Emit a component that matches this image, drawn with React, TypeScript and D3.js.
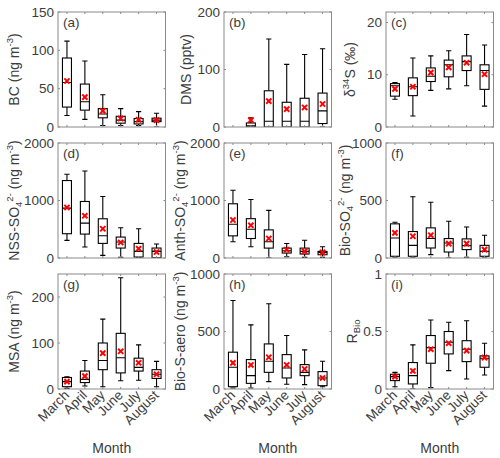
import React from "react";
import * as d3 from "d3";

const months = ["March", "April", "May", "June", "July", "August"];

// per month: [whiskerLow, q1, median, q3, whiskerHigh, mean]
const bcStats = [
  [15, 26, 58, 90, 112, 60],
  [10, 22, 33, 56, 86, 39],
  [2, 12, 17, 24, 42, 21],
  [2, 5, 9, 14, 24, 11],
  [2, 4, 7, 11, 20, 9.5],
  [0, 7, 9, 11.5, 18, 9],
];
const dmsStats = [
  null,
  [0, 0, 2, 7, 16, 12],
  [0, 0, 10, 63, 153, 45],
  [0, 0, 10, 43, 109, 31],
  [0, 0, 10, 50, 126, 34],
  [0, 6, 28, 59, 136, 40],
];
const d34sStats = [
  [5.3, 5.9, 7.9, 8.3, 8.5, 7.3],
  [2.1, 6.0, 7.7, 9.4, 13.2, 7.7],
  [7.0, 8.7, 9.7, 11.3, 13.6, 10.4],
  [7.3, 9.6, 11.9, 12.8, 14.6, 11.4],
  [7.9, 10.8, 12.5, 13.6, 17.7, 12.3],
  [4.0, 7.2, 10.8, 11.9, 15.7, 10.1],
];
const nssStats = [
  [306, 422, 867, 1347, 1457, 879],
  [191, 416, 607, 983, 1514, 734],
  [46, 254, 387, 682, 1069, 509],
  [12, 173, 277, 364, 526, 270],
  [5, 17, 116, 254, 509, 162],
  [0, 5, 116, 173, 243, 104],
];
const anthStats = [
  [282, 385, 586, 943, 1178, 661],
  [195, 339, 500, 684, 1017, 569],
  [0, 172, 282, 489, 828, 339],
  [23, 86, 126, 172, 253, 144],
  [11, 69, 115, 172, 310, 115],
  [11, 57, 98, 115, 195, 98],
];
const bioSo4Stats = [
  [0, 15, 174, 297, 311, 218],
  [0, 15, 110, 230, 532, 189],
  [29, 87, 169, 262, 485, 198],
  [0, 52, 131, 169, 320, 125],
  [6, 73, 108, 166, 270, 125],
  [0, 15, 58, 110, 198, 73],
];
const msaStats = [
  [1.4, 5, 16, 25, 26.5, 16],
  [6.5, 14, 21, 39, 62, 28],
  [5, 42, 62, 100, 152, 78],
  [18, 35, 68, 121, 242, 82],
  [19, 39, 47, 67, 96, 57],
  [5, 23, 32, 42, 60, 32],
];
const bioSAeroStats = [
  [9, 20, 189, 320, 770, 227],
  [9, 49, 116, 256, 558, 209],
  [64, 145, 241, 392, 741, 276],
  [41, 96, 183, 299, 465, 209],
  [38, 116, 145, 212, 340, 174],
  [20, 29, 96, 151, 241, 96],
];
const rBioStats = [
  [0.02, 0.073, 0.108, 0.128, 0.145, 0.108],
  [0, 0.044, 0.116, 0.23, 0.384, 0.157],
  [0.012, 0.224, 0.36, 0.465, 0.6, 0.346],
  [0.16, 0.305, 0.407, 0.5, 0.58, 0.398],
  [0.087, 0.238, 0.346, 0.42, 0.593, 0.334],
  [0.122, 0.189, 0.267, 0.288, 0.398, 0.273],
];

const bcTicks = [0, 50, 100, 150];
const dmsTicks = [0, 100, 200];
const d34sTicks = [0, 10, 20];
const so4Ticks = [0, 1000, 2000];
const bioTicks = [0, 500, 1000];
const msaTicks = [0, 100, 200];
const rTicks = [0, 0.5, 1];

type Seg = { t: string; sub?: boolean; sup?: boolean };
const ngm3: Seg[] = [{ t: " (ng m" }, { t: "-3", sup: true }, { t: ")" }];

const panels = [
  { tag: "(a)", stats: bcStats, ymax: 150, ticks: bcTicks, label: [{ t: "BC" }, ...ngm3] },
  { tag: "(b)", stats: dmsStats, ymax: 200, ticks: dmsTicks, label: [{ t: "DMS (pptv)" }] },
  { tag: "(c)", stats: d34sStats, ymax: 22, ticks: d34sTicks, label: [{ t: "δ" }, { t: "34", sup: true }, { t: "S (‰)" }] },
  { tag: "(d)", stats: nssStats, ymax: 2000, ticks: so4Ticks, label: [{ t: "NSS-SO" }, { t: "4", sub: true }, { t: "2-", sup: true }, ...ngm3] },
  { tag: "(e)", stats: anthStats, ymax: 2000, ticks: so4Ticks, label: [{ t: "Anth-SO" }, { t: "4", sub: true }, { t: "2-", sup: true }, ...ngm3] },
  { tag: "(f)", stats: bioSo4Stats, ymax: 1000, ticks: bioTicks, label: [{ t: "Bio-SO" }, { t: "4", sub: true }, { t: "2-", sup: true }, ...ngm3] },
  { tag: "(g)", stats: msaStats, ymax: 250, ticks: msaTicks, label: [{ t: "MSA" }, ...ngm3] },
  { tag: "(h)", stats: bioSAeroStats, ymax: 1000, ticks: bioTicks, label: [{ t: "Bio-S-aero" }, ...ngm3] },
  { tag: "(i)", stats: rBioStats, ymax: 1, ticks: rTicks, label: [{ t: "R" }, { t: "Bio", sub: true }] },
];

// layout
const W = 500;
const H = 458;
const colLeft = [58, 224, 386];
const rowTop = [12, 143, 274];
const PW = 107.5;
const PH = 115;
const yLabelOffset = [44, 38, 36, 44, 44, 41, 44, 44, 34];
const FONT = "'Liberation Sans', Arial, Helvetica, sans-serif";
const AXIS = "#8a8a8a";
const TXT = "#3c3c3c";

function RichLabel({ segs, x, y }: { segs: Seg[]; x: number; y: number }) {
  let cur = 0;
  const parts: React.ReactNode[] = [];
  segs.forEach((s, i) => {
    let target = 0;
    if (s.sup) target = -5.5;
    if (s.sub) target = 3.5;
    const dy = target - cur;
    cur = target;
    parts.push(
      <tspan key={i} dy={dy} fontSize={s.sup || s.sub ? 9.5 : 14}>
        {s.t}
      </tspan>
    );
  });
  return (
    <text
      transform={`translate(${x},${y}) rotate(-90)`}
      textAnchor="middle"
      fill={TXT}
      fontSize={14}
      dominantBaseline="central"
    >
      {parts}
    </text>
  );
}

function Panel({ p, idx }: { p: (typeof panels)[number]; idx: number }) {
  const col = idx % 3;
  const row = Math.floor(idx / 3);
  const left = colLeft[col];
  const top = rowTop[row];
  const x = d3.scaleLinear().domain([0.5, months.length + 0.5]).range([left, left + PW]);
  const y = d3.scaleLinear().domain([0, p.ymax]).range([top + PH, top]);
  const bw = 9;
  const cap = 2.6;
  const fmt = (v: number) => String(v);
  return (
    <g>
      <defs>
        <clipPath id={`clip${idx}`}>
          <rect x={left} y={top} width={PW} height={PH} />
        </clipPath>
      </defs>
      {/* boxes */}
      <g clipPath={`url(#clip${idx})`}>
        {p.stats.map((s, i) => {
          if (!s) return null;
          const cx = x(i + 1);
          const [lo, q1, med, q3, hi, mean] = s;
          return (
            <g key={i} stroke="#000" strokeWidth={1.1} fill="none">
              <line x1={cx} x2={cx} y1={y(q3)} y2={y(hi)} />
              <line x1={cx} x2={cx} y1={y(q1)} y2={y(lo)} />
              <line x1={cx - cap} x2={cx + cap} y1={y(hi)} y2={y(hi)} />
              <line x1={cx - cap} x2={cx + cap} y1={y(lo)} y2={y(lo)} />
              <rect x={cx - bw / 2} y={y(q3)} width={bw} height={Math.max(0, y(q1) - y(q3))} fill="#fff" />
              <line x1={cx - bw / 2} x2={cx + bw / 2} y1={y(med)} y2={y(med)} />
              <g stroke="#ff0000" strokeWidth={2}>
                <line x1={cx - 2.6} x2={cx + 2.6} y1={y(mean) - 2.6} y2={y(mean) + 2.6} />
                <line x1={cx - 2.6} x2={cx + 2.6} y1={y(mean) + 2.6} y2={y(mean) - 2.6} />
              </g>
            </g>
          );
        })}
      </g>
      {/* frame */}
      <rect x={left} y={top} width={PW} height={PH} fill="none" stroke={AXIS} strokeWidth={1} />
      {/* x ticks */}
      {months.map((m, i) => (
        <g key={m} stroke={AXIS} strokeWidth={1}>
          <line x1={x(i + 1)} x2={x(i + 1)} y1={top + PH} y2={top + PH - 2} />
          <line x1={x(i + 1)} x2={x(i + 1)} y1={top} y2={top + 2} />
        </g>
      ))}
      {/* y ticks */}
      {p.ticks.map((t) => (
        <g key={t}>
          <line x1={left} x2={left + 2} y1={y(t)} y2={y(t)} stroke={AXIS} />
          <line x1={left + PW} x2={left + PW - 2} y1={y(t)} y2={y(t)} stroke={AXIS} />
          <text x={left - 4} y={y(t)} textAnchor="end" dominantBaseline="central" fontSize={13.5} fill={TXT}>
            {fmt(t)}
          </text>
        </g>
      ))}
      <text x={left + 5} y={top + 15} fontSize={13.5} fill={TXT}>
        {p.tag}
      </text>
      <RichLabel segs={p.label as Seg[]} x={left - yLabelOffset[idx]} y={top + PH / 2} />
      {row === 2 && (
        <g>
          {months.map((m, i) => (
            <text
              key={m}
              transform={`translate(${x(i + 1) + 3},${top + PH + 7}) rotate(-45)`}
              textAnchor="end"
              fontSize={13.5}
              fill={TXT}
            >
              {m}
            </text>
          ))}
          <text x={left + PW / 2} y={453} textAnchor="middle" fontSize={14} fill={TXT}>
            Month
          </text>
        </g>
      )}
    </g>
  );
}

export default function App() {
  return (
    <svg
      width={W}
      height={H}
      style={{ position: "absolute", left: 0, top: 0, background: "#fff", fontFamily: FONT }}
    >
      <rect width={W} height={H} fill="#fff" />
      {panels.map((p, i) => (
        <Panel key={i} p={p} idx={i} />
      ))}
    </svg>
  );
}
